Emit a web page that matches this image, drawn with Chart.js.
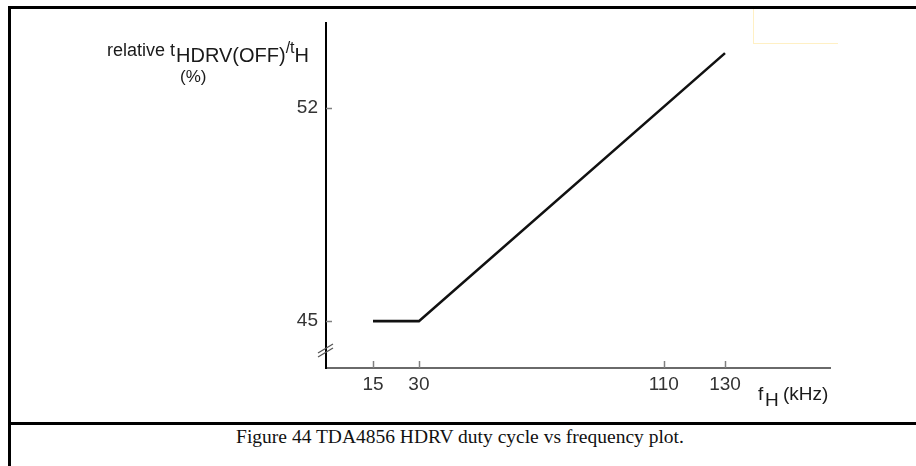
<!DOCTYPE html>
<html lang="en">
<head>
<meta charset="UTF-8">
<title>TDA4856 HDRV duty cycle vs frequency</title>
<script src="https://cdn.jsdelivr.net/npm/chart.js"></script>
<style>
    html, body {
        margin: 0;
        overflow: hidden;
    }
    body {
        width: 916px;
        height: 466px;
        background: #fff;
        position: relative;
    }
    .frame {
        position: absolute;
        left: 8px;
        top: 6px;
        width: 2000px;
        height: 600px;
        border-left: 3px solid #000;
        border-top: 3px solid #000;
    }
    .sep {
        position: absolute;
        left: 8px;
        top: 422px;
        width: 2000px;
        height: 3px;
        background: #000;
    }
    .stamp {
        position: absolute;
        left: 753px;
        top: 9px;
        width: 84px;
        height: 34px;
        border-left: 1px solid #fff0c4;
        border-bottom: 1px solid #fff0c4;
    }
    .edge {
        position: absolute;
        left: 900px;
        top: 10px;
        width: 16px;
        height: 411px;
        background: #fff;
        z-index: 5;
    }
    .caption {
        position: absolute;
        left: 0;
        top: 426px;
        width: 920px;
        text-align: center;
        font-family: 'Liberation Serif', serif;
        font-size: 19.5px;
        color: #111;
    }
    #chart {
        position: absolute;
        left: 0;
        top: 0;
    }
</style>
</head>
<body>
<div class="frame"></div>
<div class="sep"></div>
<div class="stamp"></div>
<div class="caption">Figure 44 TDA4856 HDRV duty cycle vs frequency plot.</div>
<canvas id="chart" width="916" height="466"></canvas>
<div class="edge"></div>

<script>
// data
const freqKHz = [15, 30, 130];
const dutyPct = [45, 45, 53.8];
const xTicks = [15, 30, 110, 130];
const yTicks = [45, 52];

const sans = "'Liberation Sans', Arial, sans-serif";

// inside ticks, axis break and the two axis titles with sub/superscripts
const decor = {
    id: 'decor',
    afterDraw(chart) {
        const ctx = chart.ctx;
        const x = chart.scales.x, y = chart.scales.y;
        ctx.save();

        ctx.strokeStyle = '#808080';
        ctx.lineWidth = 1.5;
        xTicks.forEach(v => {
            const px = Math.round(x.getPixelForValue(v)) + 0.5;
            ctx.beginPath();
            ctx.moveTo(px, y.bottom);
            ctx.lineTo(px, y.bottom - 7);
            ctx.stroke();
        });
        yTicks.forEach(v => {
            const py = Math.round(y.getPixelForValue(v)) + 0.5;
            ctx.beginPath();
            ctx.moveTo(x.left, py);
            ctx.lineTo(x.left + 6, py);
            ctx.stroke();
        });

        // axis break //
        const bx = x.left, by = y.bottom - 16;
        ctx.strokeStyle = '#555';
        ctx.lineWidth = 1.3;
        [0, -4].forEach(d => {
            ctx.beginPath();
            ctx.moveTo(bx - 8, by + 5 + d);
            ctx.lineTo(bx + 7, by - 4 + d);
            ctx.stroke();
        });

        // y title: relative t_HDRV(OFF) / t_H  (%)
        ctx.fillStyle = '#1a1a1a';
        ctx.textBaseline = 'alphabetic';
        ctx.textAlign = 'left';
        let cx = 107;
        ctx.font = '18px ' + sans;
        ctx.fillText('relative t', cx, 56);
        cx += ctx.measureText('relative t').width + 1;
        ctx.font = '20px ' + sans;
        ctx.fillText('HDRV(OFF)', cx, 62);
        cx += ctx.measureText('HDRV(OFF)').width;
        ctx.font = '16px ' + sans;
        ctx.fillText('/t', cx, 53);
        cx += ctx.measureText('/t').width;
        ctx.font = '20px ' + sans;
        ctx.fillText('H', cx, 62);
        ctx.font = '17px ' + sans;
        ctx.fillText('(%)', 180, 82);

        // x title: f_H (kHz)
        ctx.font = '19px ' + sans;
        ctx.fillText('f', 758, 400);
        ctx.fillText('H', 765, 406);
        ctx.fillText('(kHz)', 783, 400);

        ctx.restore();
    }
};

new Chart(document.getElementById('chart'), {
    type: 'scatter',
    data: {
        datasets: [{
            data: freqKHz.map((f, i) => ({ x: f, y: dutyPct[i] })),
            showLine: true,
            borderColor: '#111',
            borderWidth: 2.6,
            pointRadius: 0,
            tension: 0
        }]
    },
    options: {
        responsive: false,
        animation: false,
        layout: { padding: { top: 23, right: 86, left: 0, bottom: 0 } },
        plugins: { legend: { display: false }, tooltip: { enabled: false } },
        scales: {
            x: {
                type: 'linear',
                min: -0.36,
                max: 164.3,
                afterBuildTicks: s => { s.ticks = xTicks.map(v => ({ value: v })); },
                afterFit: s => { s.height = 98; },
                grid: { display: false, drawTicks: false },
                border: { display: true, color: '#6a6a6a', width: 2 },
                ticks: {
                    autoSkip: false,
                    maxRotation: 0,
                    padding: 5,
                    color: '#333',
                    font: { family: sans, size: 19 }
                }
            },
            y: {
                type: 'linear',
                min: 43.46,
                max: 54.79,
                afterBuildTicks: s => { s.ticks = yTicks.map(v => ({ value: v })); },
                afterFit: s => { s.width = 326; },
                grid: { display: false, drawTicks: false },
                border: { display: true, color: '#000', width: 2 },
                ticks: {
                    padding: 8,
                    color: '#333',
                    font: { family: sans, size: 19 }
                }
            }
        }
    },
    plugins: [decor]
});
</script>
</body>
</html>
